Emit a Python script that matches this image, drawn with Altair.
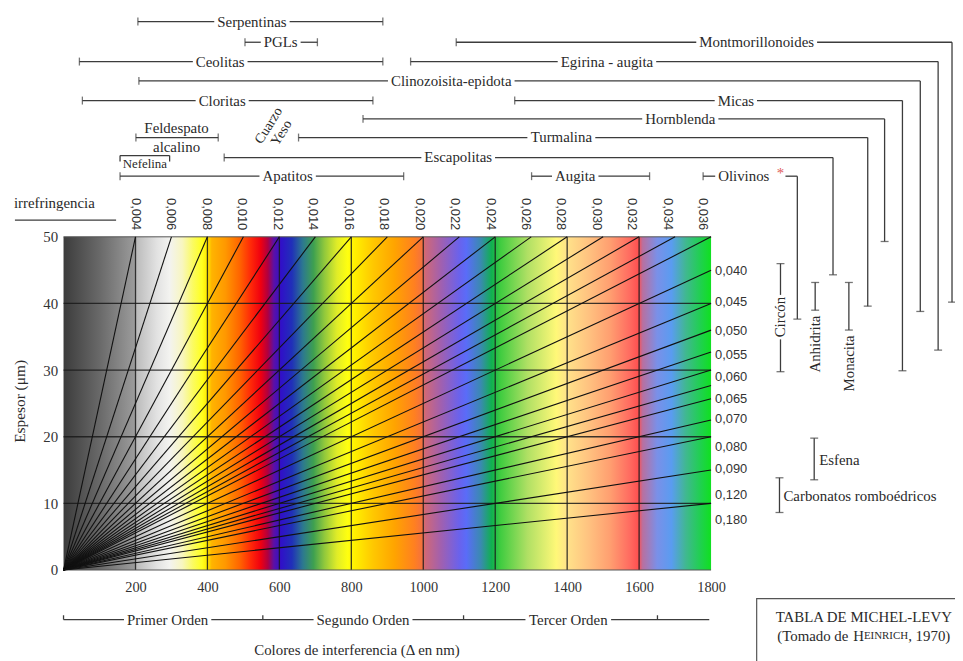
import altair as alt
import pandas as pd

# ---------------- axes / grid ----------------
delta_ticks = [200, 400, 600, 800, 1000, 1200, 1400, 1600, 1800]
thickness_ticks = [0, 10, 20, 30, 40, 50]
grid_delta = [200, 400, 600, 800, 1000, 1200, 1400, 1600]
grid_thickness = [10, 20, 30, 40]

# ---------------- birefringence lines ----------------
biref_top = [0.004, 0.006, 0.008, 0.010, 0.012, 0.014, 0.016, 0.018, 0.020,
             0.022, 0.024, 0.026, 0.028, 0.030, 0.032, 0.034, 0.036]
biref_top_labels = ["0,004", "0,006", "0,008", "0,010", "0,012", "0,014", "0,016",
                    "0,018", "0,020", "0,022", "0,024", "0,026", "0,028", "0,030",
                    "0,032", "0,034", "0,036"]
biref_top_label_x = [201, 300, 398, 497, 595, 694, 793, 891, 990, 1088, 1187,
                     1285, 1384, 1482, 1581, 1680, 1778]
biref_top_label_y = 53.4
biref_right = [0.040, 0.045, 0.050, 0.055, 0.060, 0.065, 0.070, 0.080, 0.090, 0.120, 0.180]
biref_right_labels = ["0,040", "0,045", "0,050", "0,055", "0,060", "0,065", "0,070",
                      "0,080", "0,090", "0,120", "0,180"]
biref_right_label_x = 1811
biref_right_label_y = [44.8, 40.2, 35.9, 32.3, 29.0, 25.7, 22.6, 18.5, 15.2, 11.2, 7.5]

# ---------------- interference colours (Δ nm -> colour) ----------------
grad_delta = [0, 100, 195, 205, 260, 295, 330, 360, 385, 400, 412, 450, 490, 520, 548,
              568, 585, 605, 635, 665, 695, 725, 760, 790, 810, 860, 920, 975, 998,
              1005, 1050, 1100, 1120, 1160, 1190, 1215, 1290, 1370, 1400, 1460, 1520,
              1575, 1598, 1610, 1650, 1690, 1730, 1770, 1800]
grad_color = ["#3c3c3c", "#696969", "#9a9a9a", "#bdbdbd", "#e2e2e2", "#f3f3f0", "#f8f6c0",
              "#fbfb60", "#ffff20", "#ffe800", "#ffb400", "#ff9800", "#ff6400", "#ff2a08",
              "#f00010", "#b00040", "#5a10a8", "#3010c8", "#2030b8", "#2c7890", "#3ea050",
              "#90c83c", "#e0ec28", "#ffff10", "#fff000", "#ffc800", "#ffa400", "#ff8020",
              "#f47040", "#d06878", "#a060b0", "#6a62ec", "#5a6cf8", "#3a8ab0", "#10b050",
              "#40cc40", "#b0e064", "#fff878", "#ffe28a", "#ffc280", "#ff9e70", "#ff6a60",
              "#ff5050", "#b870a0", "#7a90e8", "#5a9cf0", "#40b890", "#20d050", "#10e020"]

# ---------------- minerals along the top ----------------
top_names = ["Serpentinas", "PGLs", "Ceolitas", "Egirina - augita", "Montmorillonoides",
             "Clinozoisita-epidota", "Cloritas", "Micas", "Hornblenda", "Turmalina",
             "Escapolitas", "Apatitos", "Augita", "Olivinos"]
top_start = [206.7, 504.4, 44.1, 964.8, 1091.6, 209.5, 52.4, 1254.2, 832.5, 653.3,
             446.6, 157.1, 1301.1, 1777.9]
top_end = [887.6, 705.7, 887.6, 2431.2, 2469.8, 2381.6, 860.0, 2332.0, 2282.4, 2235.5,
           2139.0, 945.5, 1629.1, 2039.8]
top_row = [82.3, 79.2, 76.3, 76.3, 79.2, 73.4, 70.45, 70.45, 67.7, 64.9, 61.9, 59.1,
           59.1, 59.1]
top_label_x = [523.7, 603.7, 435.5, 1510.6, 1926.8, 1077.8, 441.0, 1868.9, 1714.5,
               1383.8, 1097.1, 623.0, 1422.4, 1891.0]
top_drop = [None, None, None, 33.0, 40.2, 38.8, None, 29.9, 49.3, 39.6, 44.3, None,
            None, 37.65]
olivinos_mark_x = 1993.0
olivinos_mark_y = 59.6

feldespato_range = [201.2, 430.0]
feldespato_row = 64.9
feldespato_label_x = 314.2
feldespato_label_y = [66.3, 63.5]
nefelina_range = [157.1, 294.9]
nefelina_row = 62.2
nefelina_label = [226.0, 60.85]
cuarzo_yeso = [("Cuarzo", 570.6, 66.7), ("Yeso", 606.4, 65.6)]

birref_title = [-137.8, 55.06]
birref_rule = [-135.1, 146.1, 52.5]

# ---------------- minerals on the right ----------------
right_names = ["Circón", "Anhidrita", "Monacita", "Esfena", "Carbonatos romboédricos"]
right_x = [1993.0, 2089.4, 2183.1, 2086.7, 1990.2]
right_lo = [29.76, 38.99, 36.01, 13.54, 8.63]
right_hi = [45.98, 43.15, 43.15, 19.79, 13.84]
right_label_x = [1993.0, 2089.4, 2183.1, 2100.4, 2001.2]
right_label_y = [37.95, 33.9, 31.0, 16.5, 11.16]

# ---------------- interference orders ----------------
order_names = ["Primer Orden", "Segundo Orden", "Tercer Orden"]
order_label_x = [289.4, 832.5, 1403.1]
order_bounds = [0, 554, 1112, 1651]
order_line = [0, 1795, -7.44]

x_title = ["Colores de interferencia (Δ en nm)", 815.9, -12.05]
y_title = ["Espesor (μm)", -121.3, 25.3]
box_corner = [1926.8, 2600, -4.3, -19.0]
box_line1 = ["TABLA DE MICHEL-LEVY", 2224.5, -6.99]
box_line2 = [("(Tomado de ", 15), ("H", 15), ("EINRICH", 11), (", 1970)", 15)]
box_line2_y = -9.85

# ---------------- layout helpers (styles) ----------------
PLOT_W, PLOT_H = 653, 336
PX = 1800 / PLOT_W
SERIF = "Liberation Serif"
SANS = "Liberation Sans"
FS = 15
INK = "#2a2a2a"
LINE = "#3c3c3c"

TIMES = {' ': 250, '-': 333, ',': 250, '.': 250, '(': 333, ')': 333, 'Δ': 612, 'μ': 576,
         'a': 444, 'b': 500, 'c': 444, 'd': 500, 'e': 444, 'f': 333, 'g': 500, 'h': 500,
         'i': 278, 'j': 278, 'k': 500, 'l': 278, 'm': 778, 'n': 500, 'o': 500, 'p': 500,
         'q': 500, 'r': 333, 's': 389, 't': 278, 'u': 500, 'v': 500, 'w': 722, 'x': 500,
         'y': 500, 'z': 444, 'ó': 500, 'é': 444,
         'A': 722, 'B': 667, 'C': 667, 'D': 722, 'E': 611, 'F': 556, 'G': 722, 'H': 722,
         'I': 333, 'L': 611, 'M': 889, 'N': 722, 'O': 722, 'P': 556, 'R': 667, 'S': 556,
         'T': 611, 'V': 722, 'Y': 722}


def tw(s, size):
    return sum(TIMES.get(c, 500) for c in s) / 1000 * size


segs, vticks, hticks = [], [], []
serif_center, serif_left = [], []

for name, x0, x1, row, lx, drop in zip(top_names, top_start, top_end, top_row,
                                        top_label_x, top_drop):
    half = (tw(name, FS) / 2 + 3) * PX
    segs.append((x0, row, lx - half, row))
    right_start = lx + half
    if name == "Olivinos":
        right_start = olivinos_mark_x + 5 * PX
    segs.append((right_start, row, x1, row))
    vticks.append((x0, row))
    if drop is None:
        vticks.append((x1, row))
    else:
        segs.append((x1, row, x1, drop))
        hticks.append((x1, drop))
    serif_center.append((lx, row, name, 0, FS))

segs.append((feldespato_range[0], feldespato_row, feldespato_range[1], feldespato_row))
vticks += [(feldespato_range[0], feldespato_row), (feldespato_range[1], feldespato_row)]
serif_center.append((feldespato_label_x, feldespato_label_y[0], "Feldespato", 0, FS))
serif_center.append((feldespato_label_x, feldespato_label_y[1], "alcalino", 0, FS))
segs.append((nefelina_range[0], nefelina_row, nefelina_range[1], nefelina_row))
segs.append((nefelina_range[0], nefelina_row, nefelina_range[0], nefelina_row - 0.9))
segs.append((nefelina_range[1], nefelina_row, nefelina_range[1], nefelina_row - 0.9))
serif_center.append((nefelina_label[0], nefelina_label[1], "Nefelina", 0, 13))
for t, x, y in cuarzo_yeso:
    serif_center.append((x, y, t, 302, 14))

serif_left.append((birref_title[0], birref_title[1], "irrefringencia", 15))
segs.append((birref_rule[0], birref_rule[2], birref_rule[1], birref_rule[2]))

# right-side ranges
for i, (name, x, lo, hi, lx, ly) in enumerate(zip(right_names, right_x, right_lo, right_hi,
                                                  right_label_x, right_label_y)):
    hticks += [(x, lo), (x, hi)]
    if i == 0:
        half = (tw(name, FS) / 2 + 2) / PLOT_H * 50
        segs.append((x, hi, x, ly + half))
        segs.append((x, ly - half, x, lo))
    else:
        segs.append((x, hi, x, lo))
    if i < 3:
        serif_center.append((lx, ly, name, 270, FS))
    else:
        serif_left.append((lx, ly, name, FS))

# orders
cuts = []
for name, lx in zip(order_names, order_label_x):
    half = (tw(name, FS) / 2 + 3) * PX
    cuts.append((lx - half, lx + half))
    serif_center.append((lx, order_line[2], name, 0, FS))
pos = order_line[0]
for a, b in cuts:
    segs.append((pos, order_line[2], a, order_line[2]))
    pos = b
segs.append((pos, order_line[2], order_line[1], order_line[2]))
for xb in order_bounds:
    segs.append((xb, order_line[2], xb, order_line[2] + 0.65))

serif_center.append((x_title[1], x_title[2], x_title[0], 0, FS))
serif_center.append((y_title[1], y_title[2], y_title[0], 270, 15.5))
serif_center.append((box_line1[1], box_line1[2], box_line1[0], 0, 15))
total = sum(tw(s, f) for s, f in box_line2)
cur = box_line1[1] - total / 2 * PX
for s, f in box_line2:
    serif_left.append((cur, box_line2_y, s, f))
    cur += tw(s, f) * PX

# ---------------- data frames ----------------
bg_df = pd.DataFrame({"x": [0], "x2": [1800], "y": [0], "y2": [50]})
line_rows = []
for b in biref_top + biref_right:
    d_top = b * 1000 * 50
    if d_top <= 1800:
        line_rows.append((0, 0, d_top, 50))
    else:
        line_rows.append((0, 0, 1800, 1800 / (b * 1000)))
lines_df = pd.DataFrame(line_rows, columns=["x", "y", "x2", "y2"])
grid_rows = [(d, 0, d, 50) for d in grid_delta] + [(0, t, 1800, t) for t in grid_thickness]
grid_df = pd.DataFrame(grid_rows, columns=["x", "y", "x2", "y2"])
frame_df = pd.DataFrame([(0, 50, 1800, 50), (0, 0, 1800, 0)], columns=["x", "y", "x2", "y2"])
seg_df = pd.DataFrame(segs, columns=["x", "y", "x2", "y2"])
vt_df = pd.DataFrame(vticks, columns=["x", "y"])
ht_df = pd.DataFrame(hticks, columns=["x", "y"])
sc_df = pd.DataFrame(serif_center, columns=["x", "y", "text", "angle", "fs"])
sl_df = pd.DataFrame(serif_left, columns=["x", "y", "text", "fs"])
top_lab_df = pd.DataFrame({"x": biref_top_label_x, "y": [biref_top_label_y] * len(biref_top_labels),
                           "text": biref_top_labels})
right_lab_df = pd.DataFrame({"x": [biref_right_label_x] * len(biref_right_labels),
                             "y": biref_right_label_y, "text": biref_right_labels})
star_df = pd.DataFrame({"x": [olivinos_mark_x], "y": [olivinos_mark_y], "text": ["*"]})
box_df = pd.DataFrame({"x": [box_corner[0]], "x2": [box_corner[1]],
                       "y": [box_corner[2]], "y2": [box_corner[3]]})

# ---------------- encodings ----------------
xs = alt.Scale(domain=[0, 1800], nice=False, zero=False)
ys = alt.Scale(domain=[0, 50], nice=False, zero=False)
xaxis = alt.Axis(values=delta_ticks, format="d", title=None, grid=False, ticks=False, domain=False,
                 labelFlush=False, labelFont=SERIF, labelFontSize=14.5, labelColor="#333",
                 labelPadding=11)
yaxis = alt.Axis(values=thickness_ticks, format="d", title=None, grid=False, ticks=False, domain=False,
                 labelFlush=False, labelFont=SERIF, labelFontSize=15, labelColor="#333",
                 labelPadding=6)
X = alt.X("x:Q", scale=xs, axis=xaxis)
Y = alt.Y("y:Q", scale=ys, axis=yaxis)

gradient = alt.Gradient(
    gradient="linear", x1=0, x2=1, y1=0, y2=0,
    stops=[alt.GradientStop(offset=d / 1800, color=c) for d, c in zip(grad_delta, grad_color)],
)

bg = alt.Chart(bg_df).mark_rect(color=gradient).encode(x=X, x2="x2:Q", y=Y, y2="y2:Q")
grid = alt.Chart(grid_df).mark_rule(color="#1a1a1a", strokeWidth=1.3, opacity=0.85).encode(
    x=X, y=Y, x2="x2:Q", y2="y2:Q")
frame = alt.Chart(frame_df).mark_rule(color="#555", strokeWidth=1).encode(
    x=X, y=Y, x2="x2:Q", y2="y2:Q")
blines = alt.Chart(lines_df).mark_rule(color="#111", strokeWidth=1.1).encode(
    x=X, y=Y, x2="x2:Q", y2="y2:Q")
ann = alt.Chart(seg_df).mark_rule(color=LINE, strokeWidth=1.3).encode(
    x=X, y=Y, x2="x2:Q", y2="y2:Q")
vt = alt.Chart(vt_df).mark_tick(orient="vertical", size=8, thickness=1.3, color=LINE).encode(x=X, y=Y)
ht = alt.Chart(ht_df).mark_tick(orient="horizontal", size=8, thickness=1.3, color=LINE).encode(x=X, y=Y)
box = alt.Chart(box_df).mark_rect(fillOpacity=0, color="white", stroke="#555", strokeWidth=1.2).encode(
    x=X, x2="x2:Q", y=Y, y2="y2:Q")

t_center = alt.Chart(sc_df).mark_text(font=SERIF, align="center", baseline="middle", color=INK).encode(
    x=X, y=Y, text="text:N", angle=alt.Angle("angle:Q", scale=None), size=alt.Size("fs:Q", scale=None))
t_left = alt.Chart(sl_df).mark_text(font=SERIF, align="left", baseline="middle", color=INK).encode(
    x=X, y=Y, text="text:N", size=alt.Size("fs:Q", scale=None))
t_top = alt.Chart(top_lab_df).mark_text(font=SANS, fontSize=13, align="center", baseline="middle",
                                        angle=90, color="#333").encode(x=X, y=Y, text="text:N")
t_right = alt.Chart(right_lab_df).mark_text(font=SANS, fontSize=13, align="left", baseline="middle",
                                            color="#333").encode(x=X, y=Y, text="text:N")
t_star = alt.Chart(star_df).mark_text(font=SERIF, fontSize=15, align="center", baseline="middle",
                                      color="#e05a5a").encode(x=X, y=Y, text="text:N")

chart = alt.layer(bg, grid, frame, blines, ann, vt, ht, box, t_center, t_left, t_top, t_right, t_star
                  ).properties(
    width=PLOT_W, height=PLOT_H,
    autosize=alt.AutoSizeParams(type="none"),
    padding={"left": 56, "top": 228, "right": 246, "bottom": 89},
    background="white",
).configure_view(stroke=None)

chart.save("out.html", embed_options={"renderer": "svg", "actions": False})
